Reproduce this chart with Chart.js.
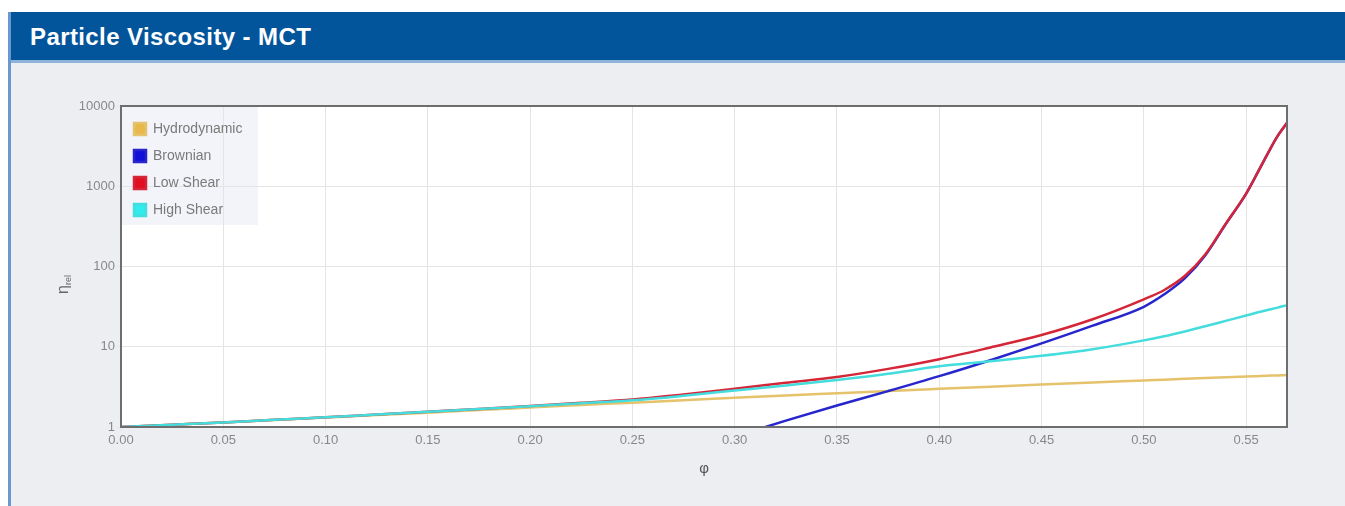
<!DOCTYPE html>
<html>
<head>
<meta charset="utf-8">
<script src="https://cdn.jsdelivr.net/npm/chart.js@4.4.1/dist/chart.umd.min.js"></script>
<style>
body{margin:0;background:#fff;width:1345px;height:506px;overflow:hidden;position:relative;font-family:"Liberation Sans",Arial,sans-serif}
#panel{position:absolute;left:8px;top:12px;width:1337px;height:494px;background:#eceef2;border-left:3px solid #6a97cf;box-sizing:border-box}
#head{height:48px;background:#02559b;color:#fff;font-weight:bold;font-size:24px;letter-spacing:0.4px;line-height:50px;padding-left:19px;border-bottom:3px solid #8fb2d8}
#wrap{position:absolute;left:0;top:0;width:1345px;height:506px}
</style>
</head>
<body>
<div id="panel"><div id="head">Particle Viscosity - MCT</div></div>
<div id="wrap"><canvas id="visc" width="1345" height="506"></canvas></div>
<script>
var phi = [0, 0.025, 0.05, 0.075, 0.1, 0.125, 0.15, 0.175, 0.2, 0.225, 0.25, 0.275, 0.3, 0.325, 0.35, 0.375, 0.4, 0.425, 0.45, 0.475, 0.5, 0.51, 0.52, 0.53, 0.54, 0.55, 0.555, 0.56, 0.565, 0.57];
var hydrodynamic = [1.00, 1.07, 1.14, 1.22, 1.31, 1.41, 1.51, 1.63, 1.75, 1.88, 2.01, 2.16, 2.31, 2.47, 2.63, 2.81, 2.99, 3.18, 3.38, 3.59, 3.80, 3.89, 3.98, 4.07, 4.16, 4.25, 4.30, 4.35, 4.39, 4.44];
var brownian = [null, null, null, null, null, null, null, null, null, null, null, null, 0.76, 1.2, 1.85, 2.8, 4.3, 6.8, 11, 18.3, 31.5, 45, 71, 137, 336, 805, 1375, 2390, 4060, 6160];
var lowShear = [1.00, 1.07, 1.14, 1.23, 1.32, 1.43, 1.55, 1.68, 1.83, 2.0, 2.2, 2.55, 3.0, 3.55, 4.2, 5.3, 7.0, 9.8, 14, 22, 39, 51, 76, 141, 340, 810, 1380, 2400, 4070, 6170];
var highShear = [1.00, 1.07, 1.14, 1.23, 1.32, 1.43, 1.55, 1.68, 1.82, 1.98, 2.15, 2.45, 2.85, 3.3, 3.85, 4.6, 5.7, 6.6, 7.7, 9.3, 12, 13.5, 15.5, 18, 21, 24.5, 26.5, 28.5, 30.5, 33];
var xTicks = [0, 0.05, 0.1, 0.15, 0.2, 0.25, 0.3, 0.35, 0.4, 0.45, 0.5, 0.55];
var yTicks = [1, 10, 100, 1000, 10000];

function pts(vals) {
    return phi.map(function (p, i) { return {x: p, y: vals[i]}; });
}

// white plot area, legend backing, frame and the y title with its subscript
var decor = {
    id: 'decor',
    afterLayout: function (chart) {
        // legend inside the plot, top left
        var lg = chart.legend, a = chart.chartArea;
        lg.left = a.left;
        lg.top = a.top + 3;
    },
    beforeDraw: function (chart) {
        var c = chart.ctx, a = chart.chartArea, lg = chart.legend;
        var boxes = lg.legendHitBoxes || [];
        var right = a.left + 137, bottom = a.top + 118;
        boxes.forEach(function (b) {
            right = Math.max(right, b.left + b.width + 6);
        });
        c.save();
        c.fillStyle = '#ffffff';
        c.fillRect(a.left, a.top, a.right - a.left, a.bottom - a.top);
        c.fillStyle = '#f3f4fa';
        c.fillRect(a.left + 1, a.top + 1, right - a.left - 1, bottom - a.top);
        c.restore();
    },
    afterDraw: function (chart) {
        var c = chart.ctx, a = chart.chartArea;
        c.save();
        c.strokeStyle = '#6e6e6e';
        c.lineWidth = 2;
        c.strokeRect(a.left, a.top, a.right - a.left, a.bottom - a.top);
        c.translate(68, 294);
        c.rotate(-Math.PI / 2);
        c.fillStyle = '#666';
        c.font = '16px "Liberation Sans", Arial';
        c.textBaseline = 'alphabetic';
        c.fillText('η', 0, 0);
        c.font = '9px "Liberation Sans", Arial';
        c.fillText('rel', 9, 3);
        c.restore();
    }
};

var tickFont = {family: '"Liberation Sans", Arial', size: 13};

var ctx = document.getElementById('visc').getContext('2d');
var myChart = new Chart(ctx, {
    type: 'line',
    data: {
        datasets: [{
            label: 'Hydrodynamic',
            data: pts(hydrodynamic),
            borderColor: '#e5c36c',
            backgroundColor: '#e8b94a',
            order: 4
        }, {
            label: 'Brownian',
            data: pts(brownian),
            borderColor: '#2626cc',
            backgroundColor: '#1010d8',
            order: 3
        }, {
            label: 'Low Shear',
            data: pts(lowShear),
            borderColor: '#d52638',
            backgroundColor: '#e01020',
            order: 2
        }, {
            label: 'High Shear',
            data: pts(highShear),
            borderColor: '#44dcdc',
            backgroundColor: '#30ecec',
            order: 1
        }]
    },
    options: {
        responsive: false,
        animation: false,
        elements: {
            point: {radius: 0},
            line: {borderWidth: 2.5, cubicInterpolationMode: 'monotone', fill: false}
        },
        layout: {padding: {left: 0, top: 106, right: 58, bottom: 28}},
        plugins: {
            tooltip: {enabled: false},
            legend: {
                position: 'chartArea',
                align: 'start',
                labels: {
                    boxWidth: 12,
                    boxHeight: 12,
                    padding: 13,
                    color: '#7a7a7a',
                    font: {family: '"Liberation Sans", Arial', size: 14},
                    sort: function (a, b) { return a.datasetIndex - b.datasetIndex; }
                }
            }
        },
        scales: {
            x: {
                type: 'linear',
                min: 0,
                max: 0.57,
                afterBuildTicks: function (s) { s.ticks = xTicks.map(function (v) { return {value: v}; }); },
                afterFit: function (s) { s.height = 51; },
                ticks: {
                    color: '#888',
                    font: tickFont,
                    maxRotation: 0,
                    padding: 2,
                    callback: function (v) { return Number(v).toFixed(2); }
                },
                grid: {color: '#e4e4e4', tickLength: 4},
                border: {display: false},
                title: {display: true, text: 'φ', color: '#555', font: {size: 15}, padding: {top: 6, bottom: 0}}
            },
            y: {
                type: 'logarithmic',
                min: 1,
                max: 10000,
                afterBuildTicks: function (s) { s.ticks = yTicks.map(function (v) { return {value: v}; }); },
                afterFit: function (s) { s.width = 121; },
                ticks: {
                    color: '#888',
                    font: tickFont,
                    padding: 2,
                    callback: function (v) { return String(v); }
                },
                grid: {color: '#e4e4e4', tickLength: 4},
                border: {display: false}
            }
        }
    },
    plugins: [decor]
});
</script>
</body>
</html>
